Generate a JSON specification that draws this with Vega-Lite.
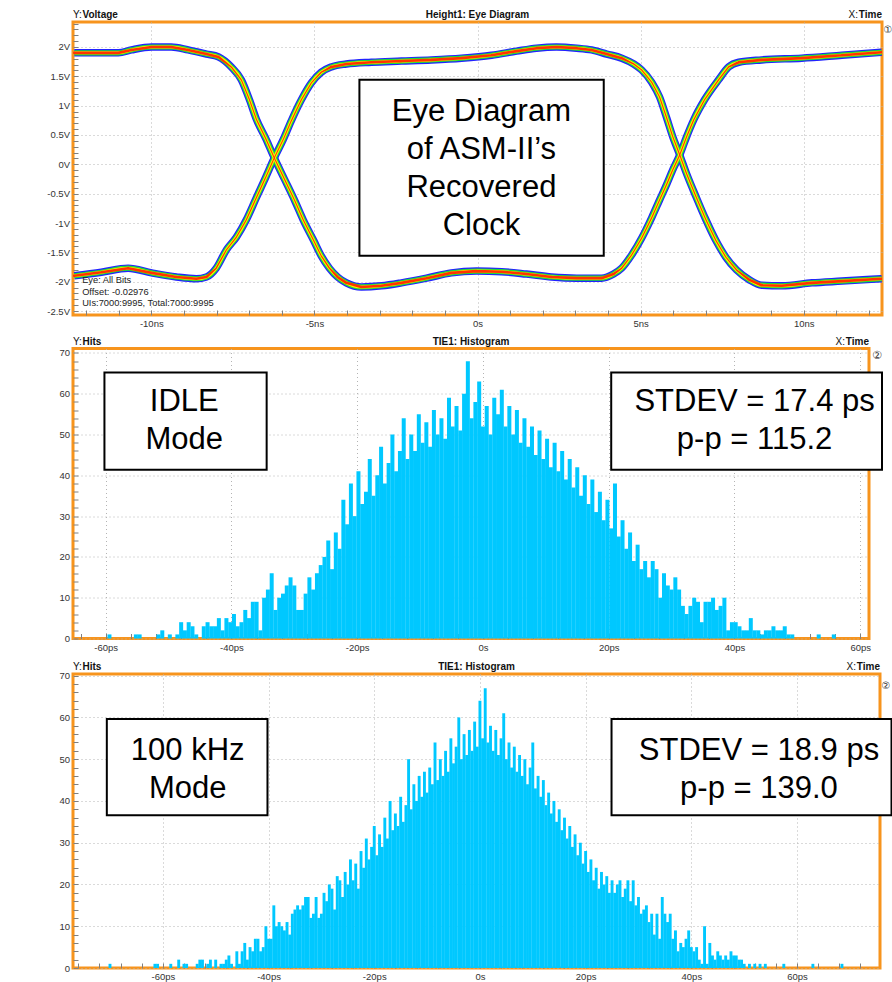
{
"$schema": "https://vega.github.io/schema/vega-lite/v6.json",
"background": "white",
"padding": {"left": 39, "top": 8, "right": 0, "bottom": 0},
"spacing": 3.5,
"config": {
  "view": {"stroke": "#f7941d", "strokeWidth": 3},
  "axis": {"grid": true, "gridColor": "#b4b4b4", "gridDash": [1, 3], "gridWidth": 1, "domain": false, "ticks": true, "tickSize": -5, "tickColor": "#808080", "tickWidth": 1, "labelFont": "Liberation Sans", "labelFontSize": 9.5, "labelColor": "#333333", "labelPadding": 8.5, "labelOverlap": false, "tickCount": 100},
  "text": {"font": "Liberation Sans", "color": "#111111"}
},
"datasets": {
  "eye": [
    {"tr":"A","t":-12.36,"v":1.9,"d":1},{"tr":"A","t":-11.53,"v":1.9,"d":1},{"tr":"A","t":-11.01,"v":1.9,"d":1},{"tr":"A","t":-10.61,"v":1.95,"d":1},{"tr":"A","t":-9.99,"v":2.0,"d":1},{"tr":"A","t":-9.39,"v":2.0,"d":1},{"tr":"A","t":-8.87,"v":1.95,"d":1},{"tr":"A","t":-8.31,"v":1.88,"d":1},{"tr":"A","t":-7.94,"v":1.83,"d":1},{"tr":"A","t":-7.55,"v":1.66,"d":0.5},{"tr":"A","t":-7.24,"v":1.44,"d":0},{"tr":"A","t":-6.99,"v":1.1,"d":0},{"tr":"A","t":-6.78,"v":0.77,"d":0},{"tr":"A","t":-6.5,"v":0.45,"d":0},{"tr":"A","t":-6.23,"v":0.11,"d":0},{"tr":"A","t":-5.92,"v":-0.25,"d":0},{"tr":"A","t":-5.61,"v":-0.61,"d":0},{"tr":"A","t":-5.34,"v":-0.95,"d":0},{"tr":"A","t":-5.03,"v":-1.29,"d":0},{"tr":"A","t":-4.79,"v":-1.56,"d":0},{"tr":"A","t":-4.54,"v":-1.77,"d":0.5},{"tr":"A","t":-4.29,"v":-1.92,"d":1},{"tr":"A","t":-4.02,"v":-2.02,"d":1},{"tr":"A","t":-3.56,"v":-2.09,"d":1},{"tr":"A","t":-2.94,"v":-2.07,"d":1},{"tr":"A","t":-2.33,"v":-2.02,"d":1},{"tr":"A","t":-1.56,"v":-1.94,"d":1},{"tr":"A","t":-0.8,"v":-1.85,"d":1},{"tr":"A","t":-0.03,"v":-1.82,"d":1},{"tr":"A","t":0.74,"v":-1.83,"d":1},{"tr":"A","t":1.5,"v":-1.87,"d":1},{"tr":"A","t":2.27,"v":-1.92,"d":1},{"tr":"A","t":3.04,"v":-1.94,"d":1},{"tr":"A","t":3.8,"v":-1.94,"d":1},{"tr":"A","t":4.17,"v":-1.87,"d":1},{"tr":"A","t":4.42,"v":-1.77,"d":0.5},{"tr":"A","t":4.72,"v":-1.55,"d":0},{"tr":"A","t":5.03,"v":-1.26,"d":0},{"tr":"A","t":5.34,"v":-0.91,"d":0},{"tr":"A","t":5.58,"v":-0.61,"d":0},{"tr":"A","t":5.8,"v":-0.34,"d":0},{"tr":"A","t":5.98,"v":-0.1,"d":0},{"tr":"A","t":6.2,"v":0.16,"d":0},{"tr":"A","t":6.41,"v":0.47,"d":0},{"tr":"A","t":6.63,"v":0.76,"d":0},{"tr":"A","t":6.96,"v":1.1,"d":0},{"tr":"A","t":7.39,"v":1.44,"d":0},{"tr":"A","t":7.7,"v":1.66,"d":0.5},{"tr":"A","t":8.01,"v":1.74,"d":1},{"tr":"A","t":8.71,"v":1.78,"d":1},{"tr":"A","t":9.94,"v":1.81,"d":1},{"tr":"A","t":11.17,"v":1.86,"d":1},{"tr":"A","t":12.39,"v":1.91,"d":1},
    {"tr":"B","t":-12.36,"v":-1.9,"d":1},{"tr":"B","t":-11.53,"v":-1.84,"d":1},{"tr":"B","t":-10.71,"v":-1.77,"d":1},{"tr":"B","t":-9.99,"v":-1.85,"d":1},{"tr":"B","t":-9.23,"v":-1.92,"d":1},{"tr":"B","t":-8.62,"v":-1.95,"d":1},{"tr":"B","t":-8.31,"v":-1.92,"d":1},{"tr":"B","t":-8.01,"v":-1.77,"d":0.5},{"tr":"B","t":-7.7,"v":-1.46,"d":0},{"tr":"B","t":-7.39,"v":-1.24,"d":0},{"tr":"B","t":-7.09,"v":-0.95,"d":0},{"tr":"B","t":-6.78,"v":-0.57,"d":0},{"tr":"B","t":-6.5,"v":-0.23,"d":0},{"tr":"B","t":-6.23,"v":0.11,"d":0},{"tr":"B","t":-5.95,"v":0.43,"d":0},{"tr":"B","t":-5.71,"v":0.74,"d":0},{"tr":"B","t":-5.4,"v":1.1,"d":0},{"tr":"B","t":-5.09,"v":1.39,"d":0},{"tr":"B","t":-4.79,"v":1.57,"d":0.5},{"tr":"B","t":-4.48,"v":1.66,"d":1},{"tr":"B","t":-4.02,"v":1.71,"d":1},{"tr":"B","t":-3.25,"v":1.74,"d":1},{"tr":"B","t":-2.33,"v":1.76,"d":1},{"tr":"B","t":-1.41,"v":1.78,"d":1},{"tr":"B","t":-0.49,"v":1.81,"d":1},{"tr":"B","t":0.43,"v":1.86,"d":1},{"tr":"B","t":1.2,"v":1.93,"d":1},{"tr":"B","t":1.81,"v":1.98,"d":1},{"tr":"B","t":2.42,"v":2.0,"d":1},{"tr":"B","t":3.04,"v":1.98,"d":1},{"tr":"B","t":3.5,"v":1.95,"d":1},{"tr":"B","t":3.96,"v":1.88,"d":1},{"tr":"B","t":4.42,"v":1.81,"d":1},{"tr":"B","t":4.79,"v":1.71,"d":0.5},{"tr":"B","t":5.03,"v":1.61,"d":0},{"tr":"B","t":5.34,"v":1.4,"d":0},{"tr":"B","t":5.58,"v":1.15,"d":0},{"tr":"B","t":5.8,"v":0.79,"d":0},{"tr":"B","t":5.98,"v":0.48,"d":0},{"tr":"B","t":6.2,"v":0.16,"d":0},{"tr":"B","t":6.41,"v":-0.16,"d":0},{"tr":"B","t":6.69,"v":-0.54,"d":0},{"tr":"B","t":6.99,"v":-0.93,"d":0},{"tr":"B","t":7.3,"v":-1.29,"d":0},{"tr":"B","t":7.61,"v":-1.58,"d":0},{"tr":"B","t":7.94,"v":-1.8,"d":0.5},{"tr":"B","t":8.34,"v":-1.97,"d":1},{"tr":"B","t":8.71,"v":-2.06,"d":1},{"tr":"B","t":9.33,"v":-2.07,"d":1},{"tr":"B","t":10.25,"v":-2.02,"d":1},{"tr":"B","t":11.17,"v":-1.99,"d":1},{"tr":"B","t":12.39,"v":-1.95,"d":1}
  ],
  "idle": [
    {"t":-59.4,"h":1},{"t":-55.2,"h":1},{"t":-54.6,"h":1},{"t":-51.6,"h":1},{"t":-51.0,"h":2},{"t":-49.8,"h":1},{"t":-48.6,"h":1},{"t":-48.0,"h":4},{"t":-47.4,"h":2},{"t":-46.8,"h":4},{"t":-46.2,"h":3},{"t":-45.6,"h":1},{"t":-44.4,"h":3},{"t":-43.8,"h":4},{"t":-43.2,"h":3},{"t":-42.6,"h":3},{"t":-42.0,"h":5},{"t":-41.4,"h":2},{"t":-40.8,"h":5},{"t":-40.2,"h":4},{"t":-39.6,"h":6},{"t":-39.0,"h":3},{"t":-38.4,"h":4},{"t":-37.8,"h":7},{"t":-37.2,"h":5},{"t":-36.6,"h":9},{"t":-36.0,"h":9},{"t":-35.4,"h":2},{"t":-34.8,"h":10},{"t":-34.2,"h":12},{"t":-33.6,"h":16},{"t":-33.0,"h":7},{"t":-32.4,"h":10},{"t":-31.8,"h":11},{"t":-31.2,"h":13},{"t":-30.6,"h":15},{"t":-30.0,"h":13},{"t":-29.4,"h":7},{"t":-28.8,"h":7},{"t":-28.2,"h":11},{"t":-27.6,"h":15},{"t":-27.0,"h":12},{"t":-26.4,"h":16},{"t":-25.8,"h":18},{"t":-25.2,"h":20},
    {"t":-24.6,"h":24},{"t":-24.0,"h":17},{"t":-23.4,"h":26},{"t":-22.8,"h":22},{"t":-22.2,"h":34},{"t":-21.6,"h":28},{"t":-21.0,"h":38},{"t":-20.4,"h":30},{"t":-19.8,"h":41},{"t":-19.2,"h":33},{"t":-18.6,"h":36},{"t":-18.0,"h":44},{"t":-17.4,"h":35},{"t":-16.8,"h":40},{"t":-16.2,"h":47},{"t":-15.6,"h":38},{"t":-15.0,"h":43},{"t":-14.4,"h":50},{"t":-13.8,"h":41},{"t":-13.2,"h":46},{"t":-12.6,"h":54},{"t":-12.0,"h":44},{"t":-11.4,"h":50},{"t":-10.8,"h":46},{"t":-10.2,"h":55},{"t":-9.6,"h":48},{"t":-9.0,"h":53},{"t":-8.4,"h":47},{"t":-7.8,"h":56},{"t":-7.2,"h":50},{"t":-6.6,"h":54},{"t":-6.0,"h":49},{"t":-5.4,"h":59},{"t":-4.8,"h":52},{"t":-4.2,"h":57},{"t":-3.6,"h":51},{"t":-3.0,"h":60},{"t":-2.4,"h":68},{"t":-1.8,"h":54},{"t":-1.2,"h":58},{"t":-0.6,"h":63},{"t":0.0,"h":52},{"t":0.6,"h":57},{"t":1.2,"h":50},{"t":1.8,"h":59},{"t":2.4,"h":55},{"t":3.0,"h":61},{"t":3.6,"h":52},{"t":4.2,"h":57},{"t":4.8,"h":50},{"t":5.4,"h":56},{"t":6.0,"h":48},{"t":6.6,"h":54},{"t":7.2,"h":47},{"t":7.8,"h":52},{"t":8.4,"h":45},{"t":9.0,"h":51},{"t":9.6,"h":44},{"t":10.2,"h":49},{"t":10.8,"h":42},{"t":11.4,"h":48},{"t":12.0,"h":41},{"t":12.6,"h":46},{"t":13.2,"h":39},{"t":13.8,"h":44},{"t":14.4,"h":37},{"t":15.0,"h":42},{"t":15.6,"h":35},{"t":16.2,"h":40},{"t":16.8,"h":33},{"t":17.4,"h":39},{"t":18.0,"h":31},{"t":18.6,"h":36},{"t":19.2,"h":29},{"t":19.8,"h":34},{"t":20.4,"h":27},{"t":21.0,"h":38},{"t":21.6,"h":25},{"t":22.2,"h":29},{"t":22.8,"h":22},{"t":23.4,"h":26},{"t":24.0,"h":19},{"t":24.6,"h":23},{"t":25.2,"h":17},
    {"t":25.8,"h":19},{"t":26.4,"h":15},{"t":27.0,"h":19},{"t":27.6,"h":17},{"t":28.2,"h":10},{"t":28.8,"h":16},{"t":29.4,"h":13},{"t":30.0,"h":12},{"t":30.6,"h":15},{"t":31.2,"h":12},{"t":31.8,"h":8},{"t":32.4,"h":6},{"t":33.0,"h":8},{"t":33.6,"h":10},{"t":34.2,"h":9},{"t":34.8,"h":4},{"t":35.4,"h":9},{"t":36.0,"h":9},{"t":36.6,"h":10},{"t":37.2,"h":7},{"t":37.8,"h":8},{"t":38.4,"h":10},{"t":39.0,"h":2},{"t":39.6,"h":4},{"t":40.2,"h":4},{"t":40.8,"h":3},{"t":41.4,"h":2},{"t":42.0,"h":2},{"t":42.6,"h":5},{"t":43.2,"h":2},{"t":43.8,"h":2},{"t":44.4,"h":1},{"t":45.0,"h":2},{"t":45.6,"h":2},{"t":46.2,"h":3},{"t":46.8,"h":2},{"t":47.4,"h":2},{"t":48.0,"h":3},{"t":48.6,"h":1},{"t":49.2,"h":1},{"t":53.4,"h":1},{"t":55.8,"h":1}
  ],
  "khz": [
    {"t":-70.0,"h":1},{"t":-61.5,"h":1},{"t":-61.0,"h":1},{"t":-58.5,"h":1},{"t":-57.0,"h":2},{"t":-56.0,"h":1},{"t":-55.5,"h":1},{"t":-53.5,"h":1},{"t":-53.0,"h":2},{"t":-52.5,"h":2},{"t":-51.5,"h":1},{"t":-51.0,"h":2},{"t":-50.0,"h":2},{"t":-49.0,"h":1},{"t":-48.5,"h":1},{"t":-48.0,"h":2},{"t":-47.5,"h":3},{"t":-47.0,"h":1},{"t":-46.0,"h":4},{"t":-45.5,"h":1},{"t":-45.0,"h":4},{"t":-44.5,"h":6},{"t":-44.0,"h":2},{"t":-43.5,"h":5},{"t":-43.0,"h":4},{"t":-42.5,"h":7},{"t":-42.0,"h":7},{"t":-41.5,"h":4},{"t":-41.0,"h":5},{"t":-40.5,"h":10},{"t":-40.0,"h":7},{"t":-39.5,"h":7},{"t":-39.0,"h":15},{"t":-38.5,"h":10},{"t":-38.0,"h":11},{"t":-37.5,"h":10},{"t":-37.0,"h":9},{"t":-36.5,"h":11},{"t":-36.0,"h":8},{"t":-35.5,"h":13},{"t":-35.0,"h":14},{"t":-34.5,"h":15},{"t":-34.0,"h":14},{"t":-33.5,"h":15},{"t":-33.0,"h":17},{"t":-32.5,"h":17},{"t":-32.0,"h":12},{"t":-31.5,"h":13},{"t":-31.0,"h":17},{"t":-30.5,"h":12},{"t":-30.0,"h":13},{"t":-29.5,"h":18},{"t":-29.0,"h":16},{"t":-28.5,"h":20},{"t":-28.0,"h":19},{"t":-27.5,"h":14},{"t":-27.0,"h":22},{"t":-26.5,"h":21},
    {"t":-26.0,"h":17},{"t":-25.5,"h":23},{"t":-25.0,"h":20},{"t":-24.5,"h":26},{"t":-24.0,"h":21},{"t":-23.5,"h":25},{"t":-23.0,"h":19},{"t":-22.5,"h":28},{"t":-22.0,"h":24},{"t":-21.5,"h":31},{"t":-21.0,"h":26},{"t":-20.5,"h":29},{"t":-20.0,"h":34},{"t":-19.5,"h":27},{"t":-19.0,"h":32},{"t":-18.5,"h":29},{"t":-18.0,"h":36},{"t":-17.5,"h":31},{"t":-17.0,"h":40},{"t":-16.5,"h":33},{"t":-16.0,"h":37},{"t":-15.5,"h":34},{"t":-15.0,"h":41},{"t":-14.5,"h":35},{"t":-14.0,"h":39},{"t":-13.5,"h":50},{"t":-13.0,"h":38},{"t":-12.5,"h":44},{"t":-12.0,"h":40},{"t":-11.5,"h":46},{"t":-11.0,"h":41},{"t":-10.5,"h":47},{"t":-10.0,"h":42},{"t":-9.5,"h":48},{"t":-9.0,"h":44},{"t":-8.5,"h":54},{"t":-8.0,"h":45},{"t":-7.5,"h":50},{"t":-7.0,"h":46},{"t":-6.5,"h":52},{"t":-6.0,"h":47},{"t":-5.5,"h":55},{"t":-5.0,"h":49},{"t":-4.5,"h":53},{"t":-4.0,"h":60},{"t":-3.5,"h":50},{"t":-3.0,"h":56},{"t":-2.5,"h":51},{"t":-2.0,"h":57},{"t":-1.5,"h":52},{"t":-1.0,"h":59},{"t":-0.5,"h":53},{"t":0.0,"h":64},{"t":0.5,"h":55},{"t":1.0,"h":67},{"t":1.5,"h":54},{"t":2.0,"h":58},{"t":2.5,"h":52},{"t":3.0,"h":57},{"t":3.5,"h":51},{"t":4.0,"h":55},{"t":4.5,"h":61},{"t":5.0,"h":50},{"t":5.5,"h":54},{"t":6.0,"h":48},{"t":6.5,"h":53},{"t":7.0,"h":47},{"t":7.5,"h":51},{"t":8.0,"h":46},{"t":8.5,"h":50},{"t":9.0,"h":44},{"t":9.5,"h":48},{"t":10.0,"h":54},{"t":10.5,"h":43},{"t":11.0,"h":46},{"t":11.5,"h":41},{"t":12.0,"h":45},{"t":12.5,"h":39},{"t":13.0,"h":42},{"t":13.5,"h":37},{"t":14.0,"h":40},{"t":14.5,"h":35},{"t":15.0,"h":38},{"t":15.5,"h":33},{"t":16.0,"h":36},{"t":16.5,"h":31},{"t":17.0,"h":34},{"t":17.5,"h":29},{"t":18.0,"h":32},{"t":18.5,"h":27},{"t":19.0,"h":30},{"t":19.5,"h":25},{"t":20.0,"h":28},{"t":20.5,"h":23},{"t":21.0,"h":26},{"t":21.5,"h":21},{"t":22.0,"h":24},{"t":22.5,"h":19},{"t":23.0,"h":23},{"t":23.5,"h":20},{"t":24.0,"h":22},{"t":24.5,"h":18},
    {"t":25.0,"h":21},{"t":25.5,"h":18},{"t":26.0,"h":20},{"t":26.5,"h":21},{"t":27.0,"h":17},{"t":27.5,"h":19},{"t":28.0,"h":21},{"t":28.5,"h":16},{"t":29.0,"h":21},{"t":29.5,"h":15},{"t":30.0,"h":17},{"t":30.5,"h":13},{"t":31.0,"h":14},{"t":31.5,"h":15},{"t":32.0,"h":11},{"t":32.5,"h":13},{"t":33.0,"h":8},{"t":33.5,"h":13},{"t":34.0,"h":7},{"t":34.5,"h":17},{"t":35.0,"h":13},{"t":35.5,"h":11},{"t":36.0,"h":13},{"t":36.5,"h":7},{"t":37.0,"h":9},{"t":37.5,"h":4},{"t":38.0,"h":6},{"t":38.5,"h":5},{"t":39.0,"h":7},{"t":39.5,"h":9},{"t":40.0,"h":5},{"t":40.5,"h":4},{"t":41.0,"h":5},{"t":41.5,"h":2},{"t":42.0,"h":1},{"t":42.5,"h":10},{"t":43.0,"h":1},{"t":43.5,"h":6},{"t":44.0,"h":3},{"t":44.5,"h":2},{"t":45.0,"h":4},{"t":45.5,"h":3},{"t":46.0,"h":2},{"t":46.5,"h":3},{"t":47.0,"h":2},{"t":47.5,"h":4},{"t":48.0,"h":3},{"t":48.5,"h":3},{"t":49.0,"h":2},{"t":49.5,"h":2},{"t":50.0,"h":1},{"t":51.0,"h":1},{"t":52.0,"h":1},{"t":53.0,"h":1},{"t":54.0,"h":1},{"t":57.5,"h":1},{"t":63.0,"h":1},{"t":68.5,"h":1}
  ]
},
"vconcat": [
  {
    "width": 809, "height": 293,
    "layer": [
      {"data": {"name": "eye"}, "mark": {"type": "line", "interpolate": "monotone", "color": "#2222ff", "strokeWidth": 7.5, "clip": true},
       "encoding": {
         "x": {"field": "t", "type": "quantitative", "scale": {"domain": [-12.4, 12.4], "nice": false, "zero": false, "padding": 0}, "axis": {"values": [-12, -11, -10, -9, -8, -7, -6, -5, -4, -3, -2, -1, 0, 1, 2, 3, 4, 5, 6, 7, 8, 9, 10, 11, 12], "tickCount": 100, "labelExpr": "datum.value % 5 == 0 ? (datum.value == 0 ? '0s' : datum.value + 'ns') : ''", "gridOpacity": {"condition": {"test": "datum.value % 5 == 0", "value": 1}, "value": 0}, "title": null, "labelOverlap": false, "minExtent": 14, "maxExtent": 14}},
         "y": {"field": "v", "type": "quantitative", "scale": {"domain": [-2.568, 2.426], "nice": false, "zero": false, "padding": 0}, "axis": {"values": [-2.5, -2.4, -2.3, -2.2, -2.1, -2, -1.9, -1.8, -1.7, -1.6, -1.5, -1.4, -1.3, -1.2, -1.1, -1, -0.9, -0.8, -0.7, -0.6, -0.5, -0.4, -0.3, -0.2, -0.1, 0, 0.1, 0.2, 0.3, 0.4, 0.5, 0.6, 0.7, 0.8, 0.9, 1, 1.1, 1.2, 1.3, 1.4, 1.5, 1.6, 1.7, 1.8, 1.9, 2, 2.1, 2.2, 2.3, 2.4], "tickCount": 100, "labelExpr": "abs(datum.value * 2 - round(datum.value * 2)) < 0.01 ? datum.value + 'V' : ''", "gridOpacity": {"condition": {"test": "abs(datum.value * 2 - round(datum.value * 2)) < 0.01", "value": 1}, "value": 0}, "title": null, "labelOverlap": false, "minExtent": 32, "maxExtent": 32}},
         "detail": {"field": "tr"}}},
      {"data": {"name": "eye"}, "mark": {"type": "line", "interpolate": "monotone", "color": "#22dd33", "strokeWidth": 5.2, "clip": true},
       "encoding": {"x": {"field": "t", "type": "quantitative"}, "y": {"field": "v", "type": "quantitative"}, "detail": {"field": "tr"}}},
      {"data": {"name": "eye"}, "mark": {"type": "line", "interpolate": "monotone", "color": "#ffee00", "strokeWidth": 3, "clip": true},
       "encoding": {"x": {"field": "t", "type": "quantitative"}, "y": {"field": "v", "type": "quantitative"}, "detail": {"field": "tr"}}},
      {"data": {"name": "eye"}, "mark": {"type": "trail", "color": "#ff3300", "clip": true},
       "encoding": {"x": {"field": "t", "type": "quantitative"}, "y": {"field": "v", "type": "quantitative"}, "detail": {"field": "tr"}, "size": {"field": "d", "type": "quantitative", "scale": {"domain": [0, 1], "range": [0, 2.6]}, "legend": null}}},
      {"data": {"values": [{}]}, "mark": {"type": "rect", "fill": "white", "stroke": "black", "strokeWidth": 2},
       "encoding": {"x": {"datum": -3.62, "type": "quantitative"}, "x2": {"datum": 3.87}, "y": {"datum": 1.44, "type": "quantitative"}, "y2": {"datum": -1.56}}},
      {"data": {"values": [{}]}, "mark": {"type": "text", "fontSize": 31, "lineHeight": 38, "align": "center", "baseline": "middle", "color": "black"},
       "encoding": {"x": {"datum": 0.12, "type": "quantitative"}, "y": {"datum": 0.89, "type": "quantitative"}, "text": {"value": ["Eye Diagram", "of ASM-II’s", "Recovered", "Clock"]}}},
      {"data": {"values": [{}]}, "mark": {"type": "text", "fontSize": 9.3, "lineHeight": 11.7, "align": "left", "baseline": "middle", "color": "#222222"},
       "encoding": {"x": {"datum": -12.12, "type": "quantitative"}, "y": {"datum": -1.97, "type": "quantitative"}, "text": {"value": ["Eye: All Bits", "Offset: -0.02976", "UIs:7000:9995, Total:7000:9995"]}}},
      {"data": {"values": [{}]}, "mark": {"type": "text", "fontSize": 10, "align": "left", "baseline": "middle", "dy": -7},
       "encoding": {"x": {"datum": -12.4, "type": "quantitative"}, "y": {"datum": 2.426, "type": "quantitative"}, "text": {"value": "Y:"}}},
      {"data": {"values": [{}]}, "mark": {"type": "text", "fontSize": 10, "fontWeight": "bold", "align": "left", "baseline": "middle", "dy": -7, "dx": 9.5},
       "encoding": {"x": {"datum": -12.4, "type": "quantitative"}, "y": {"datum": 2.426, "type": "quantitative"}, "text": {"value": "Voltage"}}},
      {"data": {"values": [{}]}, "mark": {"type": "text", "fontSize": 10, "fontWeight": "bold", "align": "center", "baseline": "middle", "dy": -7},
       "encoding": {"x": {"datum": 0, "type": "quantitative"}, "y": {"datum": 2.426, "type": "quantitative"}, "text": {"value": "Height1: Eye Diagram"}}},
      {"data": {"values": [{}]}, "mark": {"type": "text", "fontSize": 10, "fontWeight": "bold", "align": "right", "baseline": "middle", "dy": -7},
       "encoding": {"x": {"datum": 12.4, "type": "quantitative"}, "y": {"datum": 2.426, "type": "quantitative"}, "text": {"value": "Time"}}},
      {"data": {"values": [{}]}, "mark": {"type": "text", "fontSize": 10, "align": "right", "baseline": "middle", "dy": -7, "dx": -24},
       "encoding": {"x": {"datum": 12.4, "type": "quantitative"}, "y": {"datum": 2.426, "type": "quantitative"}, "text": {"value": "X:"}}},
      {"data": {"values": [{}]}, "mark": {"type": "text", "font": "DejaVu Sans", "fontSize": 10, "align": "left", "baseline": "middle", "dy": 8, "dx": 1.5, "color": "#333333"},
       "encoding": {"x": {"datum": 12.4, "type": "quantitative"}, "y": {"datum": 2.426, "type": "quantitative"}, "text": {"value": "①"}}}
    ]
  },
  {
    "width": 796, "height": 290,
    "layer": [
      {"data": {"name": "idle"}, "mark": {"type": "bar", "color": "#00c8ff", "size": 4},
       "encoding": {
         "x": {"field": "t", "type": "quantitative", "scale": {"domain": [-65.2, 61.4], "nice": false, "zero": false, "padding": 0}, "axis": {"values": [-64, -60, -56, -52, -48, -44, -40, -36, -32, -28, -24, -20, -16, -12, -8, -4, 0, 4, 8, 12, 16, 20, 24, 28, 32, 36, 40, 44, 48, 52, 56, 60], "tickCount": 100, "labelExpr": "datum.value % 20 == 0 ? (datum.value == 0 ? '0s' : datum.value + 'ps') : ''", "gridOpacity": {"condition": {"test": "datum.value % 20 == 0", "value": 1}, "value": 0}, "title": null, "labelOverlap": false, "minExtent": 16, "maxExtent": 16}},
         "y": {"field": "h", "type": "quantitative", "scale": {"domain": [0, 71.1], "nice": false, "padding": 0}, "axis": {"values": [0, 2, 4, 6, 8, 10, 12, 14, 16, 18, 20, 22, 24, 26, 28, 30, 32, 34, 36, 38, 40, 42, 44, 46, 48, 50, 52, 54, 56, 58, 60, 62, 64, 66, 68, 70], "tickCount": 100, "labelExpr": "datum.value % 10 == 0 ? datum.value + '' : ''", "gridOpacity": {"condition": {"test": "datum.value % 10 == 0", "value": 1}, "value": 0}, "title": null, "labelOverlap": false, "minExtent": 30, "maxExtent": 30}}}},
      {"data": {"values": [{}]}, "mark": {"type": "rect", "fill": "white", "stroke": "black", "strokeWidth": 2},
       "encoding": {"x": {"datum": -60.2, "type": "quantitative"}, "x2": {"datum": -34.4}, "y": {"datum": 65.2, "type": "quantitative"}, "y2": {"datum": 41.4}}},
      {"data": {"values": [{}]}, "mark": {"type": "text", "fontSize": 31, "lineHeight": 38, "align": "center", "baseline": "middle", "color": "black"},
       "encoding": {"x": {"datum": -47.5, "type": "quantitative"}, "y": {"datum": 57.9, "type": "quantitative"}, "text": {"value": ["IDLE", "Mode"]}}},
      {"data": {"values": [{}]}, "mark": {"type": "rect", "fill": "white", "stroke": "black", "strokeWidth": 2, "x2Offset": 13},
       "encoding": {"x": {"datum": 20.4, "type": "quantitative"}, "x2": {"datum": 61.4}, "y": {"datum": 65.2, "type": "quantitative"}, "y2": {"datum": 41.4}}},
      {"data": {"values": [{}]}, "mark": {"type": "text", "fontSize": 31, "lineHeight": 38, "align": "center", "baseline": "middle", "color": "black"},
       "encoding": {"x": {"datum": 43.2, "type": "quantitative"}, "y": {"datum": 57.9, "type": "quantitative"}, "text": {"value": ["STDEV = 17.4 ps", "p-p = 115.2"]}}},
      {"data": {"values": [{}]}, "mark": {"type": "text", "fontSize": 10, "align": "left", "baseline": "middle", "dy": -7},
       "encoding": {"x": {"datum": -65.2, "type": "quantitative"}, "y": {"datum": 71.1, "type": "quantitative"}, "text": {"value": "Y:"}}},
      {"data": {"values": [{}]}, "mark": {"type": "text", "fontSize": 10, "fontWeight": "bold", "align": "left", "baseline": "middle", "dy": -7, "dx": 9.5},
       "encoding": {"x": {"datum": -65.2, "type": "quantitative"}, "y": {"datum": 71.1, "type": "quantitative"}, "text": {"value": "Hits"}}},
      {"data": {"values": [{}]}, "mark": {"type": "text", "fontSize": 10, "fontWeight": "bold", "align": "center", "baseline": "middle", "dy": -7},
       "encoding": {"x": {"datum": -1.9, "type": "quantitative"}, "y": {"datum": 71.1, "type": "quantitative"}, "text": {"value": "TIE1: Histogram"}}},
      {"data": {"values": [{}]}, "mark": {"type": "text", "fontSize": 10, "fontWeight": "bold", "align": "right", "baseline": "middle", "dy": -7},
       "encoding": {"x": {"datum": 61.4, "type": "quantitative"}, "y": {"datum": 71.1, "type": "quantitative"}, "text": {"value": "Time"}}},
      {"data": {"values": [{}]}, "mark": {"type": "text", "fontSize": 10, "align": "right", "baseline": "middle", "dy": -7, "dx": -24},
       "encoding": {"x": {"datum": 61.4, "type": "quantitative"}, "y": {"datum": 71.1, "type": "quantitative"}, "text": {"value": "X:"}}},
      {"data": {"values": [{}]}, "mark": {"type": "text", "font": "DejaVu Sans", "fontSize": 11, "align": "left", "baseline": "middle", "dy": 7, "dx": 3, "color": "#333333"},
       "encoding": {"x": {"datum": 61.4, "type": "quantitative"}, "y": {"datum": 71.1, "type": "quantitative"}, "text": {"value": "②"}}}
    ]
  },
  {
    "width": 807, "height": 294,
    "layer": [
      {"data": {"name": "khz"}, "mark": {"type": "bar", "color": "#00c8ff", "size": 2.9},
       "encoding": {
         "x": {"field": "t", "type": "quantitative", "scale": {"domain": [-77, 75.7], "nice": false, "zero": false, "padding": 0}, "axis": {"values": [-76, -72, -68, -64, -60, -56, -52, -48, -44, -40, -36, -32, -28, -24, -20, -16, -12, -8, -4, 0, 4, 8, 12, 16, 20, 24, 28, 32, 36, 40, 44, 48, 52, 56, 60, 64, 68, 72], "tickCount": 100, "labelExpr": "datum.value % 20 == 0 ? (datum.value == 0 ? '0s' : datum.value + 'ps') : ''", "gridOpacity": {"condition": {"test": "datum.value % 20 == 0", "value": 1}, "value": 0}, "title": null, "labelOverlap": false, "minExtent": 14, "maxExtent": 14}},
         "y": {"field": "h", "type": "quantitative", "scale": {"domain": [0, 70.4], "nice": false, "padding": 0}, "axis": {"values": [0, 2, 4, 6, 8, 10, 12, 14, 16, 18, 20, 22, 24, 26, 28, 30, 32, 34, 36, 38, 40, 42, 44, 46, 48, 50, 52, 54, 56, 58, 60, 62, 64, 66, 68, 70], "tickCount": 100, "labelExpr": "datum.value % 10 == 0 ? datum.value + '' : ''", "gridOpacity": {"condition": {"test": "datum.value % 10 == 0", "value": 1}, "value": 0}, "title": null, "labelOverlap": false, "minExtent": 29, "maxExtent": 29}}}},
      {"data": {"values": [{}]}, "mark": {"type": "rect", "fill": "white", "stroke": "black", "strokeWidth": 2},
       "encoding": {"x": {"datum": -70.6, "type": "quantitative"}, "x2": {"datum": -40.2}, "y": {"datum": 59.6, "type": "quantitative"}, "y2": {"datum": 36.6}}},
      {"data": {"values": [{}]}, "mark": {"type": "text", "fontSize": 31, "lineHeight": 38, "align": "center", "baseline": "middle", "color": "black"},
       "encoding": {"x": {"datum": -55.3, "type": "quantitative"}, "y": {"datum": 52.0, "type": "quantitative"}, "text": {"value": ["100 kHz", "Mode"]}}},
      {"data": {"values": [{}]}, "mark": {"type": "rect", "fill": "white", "stroke": "black", "strokeWidth": 2, "x2Offset": 11.5},
       "encoding": {"x": {"datum": 24.9, "type": "quantitative"}, "x2": {"datum": 75.7}, "y": {"datum": 59.6, "type": "quantitative"}, "y2": {"datum": 36.6}}},
      {"data": {"values": [{}]}, "mark": {"type": "text", "fontSize": 31, "lineHeight": 38, "align": "center", "baseline": "middle", "color": "black"},
       "encoding": {"x": {"datum": 52.8, "type": "quantitative"}, "y": {"datum": 52.0, "type": "quantitative"}, "text": {"value": ["STDEV = 18.9 ps", "p-p = 139.0"]}}},
      {"data": {"values": [{}]}, "mark": {"type": "text", "fontSize": 10, "align": "left", "baseline": "middle", "dy": -7},
       "encoding": {"x": {"datum": -77, "type": "quantitative"}, "y": {"datum": 70.4, "type": "quantitative"}, "text": {"value": "Y:"}}},
      {"data": {"values": [{}]}, "mark": {"type": "text", "fontSize": 10, "fontWeight": "bold", "align": "left", "baseline": "middle", "dy": -7, "dx": 9.5},
       "encoding": {"x": {"datum": -77, "type": "quantitative"}, "y": {"datum": 70.4, "type": "quantitative"}, "text": {"value": "Hits"}}},
      {"data": {"values": [{}]}, "mark": {"type": "text", "fontSize": 10, "fontWeight": "bold", "align": "center", "baseline": "middle", "dy": -7},
       "encoding": {"x": {"datum": -0.65, "type": "quantitative"}, "y": {"datum": 70.4, "type": "quantitative"}, "text": {"value": "TIE1: Histogram"}}},
      {"data": {"values": [{}]}, "mark": {"type": "text", "fontSize": 10, "fontWeight": "bold", "align": "right", "baseline": "middle", "dy": -7},
       "encoding": {"x": {"datum": 75.7, "type": "quantitative"}, "y": {"datum": 70.4, "type": "quantitative"}, "text": {"value": "Time"}}},
      {"data": {"values": [{}]}, "mark": {"type": "text", "fontSize": 10, "align": "right", "baseline": "middle", "dy": -7, "dx": -24},
       "encoding": {"x": {"datum": 75.7, "type": "quantitative"}, "y": {"datum": 70.4, "type": "quantitative"}, "text": {"value": "X:"}}},
      {"data": {"values": [{}]}, "mark": {"type": "text", "font": "DejaVu Sans", "fontSize": 10, "align": "left", "baseline": "middle", "dy": 12, "dx": 1.5, "color": "#333333"},
       "encoding": {"x": {"datum": 75.7, "type": "quantitative"}, "y": {"datum": 70.4, "type": "quantitative"}, "text": {"value": "②"}}}
    ]
  }
]
}
